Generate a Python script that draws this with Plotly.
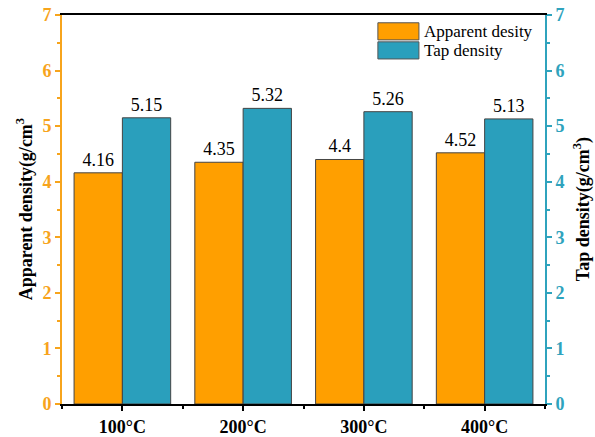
import plotly.graph_objects as go

categories = ["100°C", "200°C", "300°C", "400°C"]
apparent = [4.16, 4.35, 4.4, 4.52]
tap = [5.15, 5.32, 5.26, 5.13]
apparent_labels = ["4.16", "4.35", "4.4", "4.52"]
tap_labels = ["5.15", "5.32", "5.26", "5.13"]
y_ticks = [0, 1, 2, 3, 4, 5, 6, 7]
series_names = ["Apparent desity", "Tap density"]

ORANGE = "#FF9F00"
ORANGE_AX = "#F7A41C"
TEAL = "#2A9FBC"
TEAL_AX = "#2FA3BD"
FONT = "Liberation Serif"

xpos = list(range(len(categories)))

fig = go.Figure()
fig.add_trace(go.Bar(
    x=xpos, y=apparent, name=series_names[0],
    marker=dict(color=ORANGE, line=dict(color="#444444", width=1)),
    width=0.4, offset=-0.4,
    text=apparent_labels, textposition="outside",
    textfont=dict(family=FONT, size=18, color="black"),
    cliponaxis=False, yaxis="y", showlegend=False,
))
fig.add_trace(go.Bar(
    x=xpos, y=tap, name=series_names[1],
    marker=dict(color=TEAL, line=dict(color="#444444", width=1)),
    width=0.4, offset=0,
    text=tap_labels, textposition="outside",
    textfont=dict(family=FONT, size=18, color="black"),
    cliponaxis=False, yaxis="y2", showlegend=False,
))

# legend drawn in paper coordinates
shapes = []
annotations = []
leg_items = [(series_names[0], ORANGE, 0.958), (series_names[1], TEAL, 0.909)]
for name, col, yc in leg_items:
    shapes.append(dict(type="rect", xref="paper", yref="paper",
                       x0=0.654, x1=0.739, y0=yc - 0.022, y1=yc + 0.022,
                       fillcolor=col, line=dict(color="#555555", width=1)))
    annotations.append(dict(text=name, xref="paper", yref="paper", x=0.745, y=yc,
                            xanchor="left", yanchor="middle", showarrow=False,
                            font=dict(family=FONT, size=17, color="black")))

annotations.append(dict(text="<b>Apparent density(g/cm<sup>3</sup></b>", xref="paper", yref="paper",
                        x=-0.077, y=0.5, xanchor="center", yanchor="middle", showarrow=False,
                        textangle=-90, font=dict(family=FONT, size=18, color="black")))
annotations.append(dict(text="<b>Tap density(g/cm<sup>3</sup>)</b>", xref="paper", yref="paper",
                        x=1.076, y=0.5, xanchor="center", yanchor="middle", showarrow=False,
                        textangle=-90, font=dict(family=FONT, size=18, color="black")))

fig.update_layout(
    width=595, height=437,
    margin=dict(l=62, r=50, t=15, b=33, autoexpand=False),
    paper_bgcolor="white", plot_bgcolor="white",
    font=dict(family=FONT, color="black"),
    barmode="overlay",
    showlegend=False,
    shapes=shapes,
    annotations=annotations,
    xaxis=dict(
        range=[-0.5, 3.5], tickmode="array", tickvals=xpos, ticktext=categories,
        showgrid=False, zeroline=False,
        showline=True, linecolor="black", linewidth=2, mirror=True,
        ticks="outside", ticklen=5, tickwidth=2, tickcolor="black",
        tickfont=dict(family=FONT, size=18, color="black", weight="bold"),
        minor=dict(tickvals=[-0.5, 0.5, 1.5, 2.5, 3.5], ticks="outside", ticklen=3,
                   tickwidth=2, tickcolor="black"),
    ),
    yaxis=dict(
        range=[0, 7], tickmode="array", tickvals=y_ticks,
        showgrid=False, zeroline=False,
        showline=True, linecolor=ORANGE_AX, linewidth=2,
        ticks="outside", ticklen=5, tickwidth=2, tickcolor=ORANGE_AX,
        tickfont=dict(family=FONT, size=18, color=ORANGE_AX, weight="bold"),
        minor=dict(dtick=0.5, ticks="outside", ticklen=3, tickwidth=2, tickcolor=ORANGE_AX),
    ),
    yaxis2=dict(
        range=[0, 7], tickmode="array", tickvals=y_ticks,
        overlaying="y", side="right",
        showgrid=False, zeroline=False,
        showline=True, linecolor=TEAL_AX, linewidth=2,
        ticks="outside", ticklen=5, tickwidth=2, tickcolor=TEAL_AX,
        tickfont=dict(family=FONT, size=18, color=TEAL_AX, weight="bold"),
        minor=dict(dtick=0.5, ticks="outside", ticklen=3, tickwidth=2, tickcolor=TEAL_AX),
    ),
)

fig.write_html("out.html", config={"displayModeBar": False},
               post_script="document.body.style.margin='0';document.body.style.overflow='hidden';")
